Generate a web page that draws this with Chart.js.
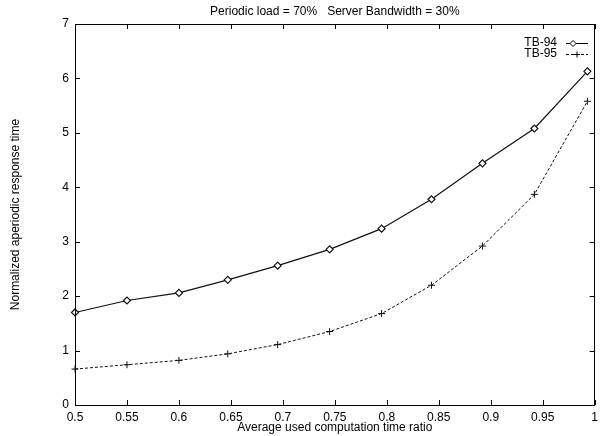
<!DOCTYPE html>
<html>
<head>
<meta charset="utf-8">
<script src="https://cdn.jsdelivr.net/npm/chart.js@4/dist/chart.umd.min.js"></script>
<style>
    html, body { margin: 0; padding: 0; background: #fff; }
    #wrap { width: 603px; height: 436px; position: relative; }
</style>
</head>
<body>
<div id="wrap"><canvas id="chart" width="603" height="436"></canvas></div>
<script>
// Data
const ratioValues = [0.5, 0.55, 0.6, 0.647, 0.695, 0.745, 0.795, 0.843, 0.892, 0.942, 0.993];
const tb94Values = [1.7, 1.92, 2.06, 2.3, 2.56, 2.86, 3.24, 3.78, 4.44, 5.08, 6.13];
const tb95Values = [0.66, 0.74, 0.82, 0.94, 1.11, 1.35, 1.68, 2.2, 2.92, 3.87, 5.58];

const xTickValues = [0.5, 0.55, 0.6, 0.65, 0.7, 0.75, 0.8, 0.85, 0.9, 0.95, 1];
const xTickLabels = ['0.5', '0.55', '0.6', '0.65', '0.7', '0.75', '0.8', '0.85', '0.9', '0.95', '1'];
const yTickValues = [0, 1, 2, 3, 4, 5, 6, 7];
const yTickLabels = ['0', '1', '2', '3', '4', '5', '6', '7'];

const chartTitle = 'Periodic load = 70%   Server Bandwidth = 30%';
const xTitle = 'Average used computation time ratio';
const yTitle = 'Normalized aperiodic response time';
const seriesNames = ['TB-94', 'TB-95'];

const FONT = '12px "Liberation Sans", Arial, sans-serif';

function toPoints(ys) {
    return ratioValues.map((x, i) => ({ x: x, y: ys[i] }));
}

// Frame, inward ticks, titles and the in-plot legend
const decorPlugin = {
    id: 'decor',
    afterDraw(chart) {
        const ctx = chart.ctx;
        const area = chart.chartArea;
        const xs = chart.scales.x;
        const ys = chart.scales.y;
        const tick = 5;

        ctx.save();
        ctx.strokeStyle = '#000';
        ctx.lineWidth = 1;
        ctx.strokeRect(Math.round(area.left) + 0.5, Math.round(area.top) + 0.5,
            Math.round(area.right - area.left) - 1, Math.round(area.bottom - area.top));

        ctx.beginPath();
        xTickValues.forEach(v => {
            const px = Math.round(xs.getPixelForValue(v)) + 0.5;
            ctx.moveTo(px, area.bottom);
            ctx.lineTo(px, area.bottom - tick);
            ctx.moveTo(px, area.top);
            ctx.lineTo(px, area.top + tick);
        });
        yTickValues.forEach(v => {
            const py = Math.round(ys.getPixelForValue(v)) + 0.5;
            ctx.moveTo(area.left, py);
            ctx.lineTo(area.left + tick, py);
            ctx.moveTo(area.right, py);
            ctx.lineTo(area.right - tick, py);
        });
        ctx.stroke();

        // titles
        ctx.fillStyle = '#000';
        ctx.font = FONT;
        ctx.textAlign = 'center';
        ctx.textBaseline = 'middle';
        const midX = (area.left + area.right) / 2;
        ctx.fillText(chartTitle, midX, 12);
        ctx.fillText(xTitle, midX, 428);
        ctx.save();
        ctx.translate(16, (area.top + area.bottom) / 2);
        ctx.rotate(-Math.PI / 2);
        ctx.fillText(yTitle, 0, 0);
        ctx.restore();

        // legend
        ctx.textAlign = 'right';
        const rows = [
            { y: 43, dash: [], style: 'diamond' },
            { y: 54, dash: [3, 2], style: 'plus' }
        ];
        rows.forEach((r, i) => {
            ctx.fillText(seriesNames[i], 557, r.y);
            ctx.beginPath();
            ctx.setLineDash(r.dash);
            ctx.moveTo(566, r.y + 0.5);
            ctx.lineTo(588, r.y + 0.5);
            ctx.stroke();
            ctx.setLineDash([]);
            ctx.beginPath();
            if (r.style === 'diamond') {
                const cx = 573, cy = r.y + 0.5, s = 3;
                ctx.moveTo(cx, cy - s);
                ctx.lineTo(cx + s, cy);
                ctx.lineTo(cx, cy + s);
                ctx.lineTo(cx - s, cy);
                ctx.closePath();
                ctx.fillStyle = '#fff';
                ctx.fill();
                ctx.fillStyle = '#000';
                ctx.stroke();
            } else {
                const cx = 577, cy = r.y + 0.5, s = 3;
                ctx.moveTo(cx - s, cy);
                ctx.lineTo(cx + s, cy);
                ctx.moveTo(cx, cy - s);
                ctx.lineTo(cx, cy + s);
                ctx.stroke();
            }
        });
        ctx.restore();
    }
};

const ctx = document.getElementById('chart').getContext('2d');
const chart = new Chart(ctx, {
    type: 'line',
    data: {
        datasets: [
            {
                label: seriesNames[0],
                data: toPoints(tb94Values),
                borderColor: '#111',
                borderWidth: 1.2,
                pointStyle: 'rectRot',
                pointRadius: 3.5,
                pointBackgroundColor: '#fff',
                pointBorderColor: '#111',
                pointBorderWidth: 1.2,
                tension: 0,
                clip: false
            },
            {
                label: seriesNames[1],
                data: toPoints(tb95Values),
                borderColor: '#111',
                borderWidth: 1,
                borderDash: [3, 2],
                pointStyle: 'cross',
                pointRadius: 3.5,
                pointBorderColor: '#111',
                pointBorderWidth: 1,
                tension: 0,
                clip: false
            }
        ]
    },
    options: {
        responsive: false,
        animation: false,
        layout: { padding: { top: 24, right: 4, left: 0, bottom: 0 } },
        plugins: {
            legend: { display: false },
            title: { display: false },
            tooltip: { enabled: false }
        },
        scales: {
            x: {
                type: 'linear',
                min: 0.5,
                max: 1,
                afterBuildTicks: scale => { scale.ticks = xTickValues.map(v => ({ value: v })); },
                afterFit: scale => { scale.height = 31; },
                grid: { display: false, drawTicks: false },
                border: { display: false },
                ticks: {
                    color: '#000',
                    font: { family: '"Liberation Sans", Arial, sans-serif', size: 12 },
                    padding: 5,
                    maxRotation: 0,
                    autoSkip: false,
                    callback: (v, i) => xTickLabels[i]
                }
            },
            y: {
                min: 0,
                max: 7,
                afterBuildTicks: scale => { scale.ticks = yTickValues.map(v => ({ value: v })); },
                afterFit: scale => { scale.width = 75; },
                grid: { display: false, drawTicks: false },
                border: { display: false },
                ticks: {
                    color: '#000',
                    font: { family: '"Liberation Sans", Arial, sans-serif', size: 12 },
                    padding: 6,
                    autoSkip: false,
                    callback: (v, i) => yTickLabels[i]
                }
            }
        }
    },
    plugins: [decorPlugin]
});
</script>
</body>
</html>
